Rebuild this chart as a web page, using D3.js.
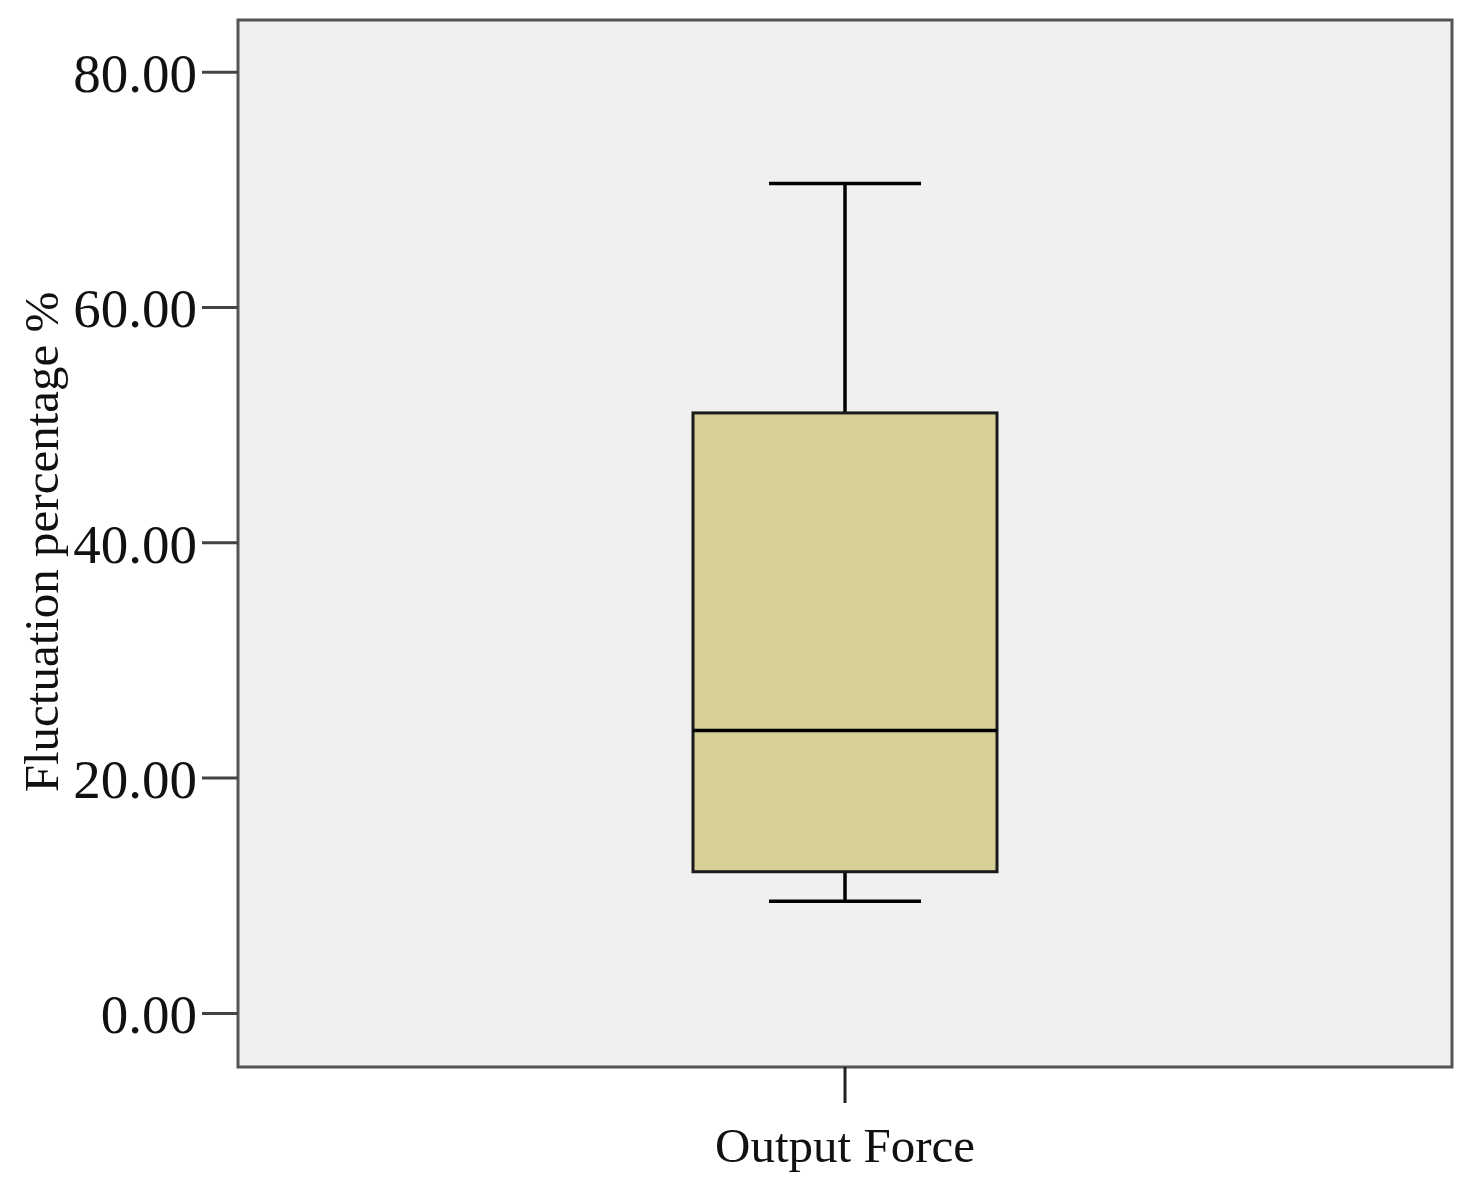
<!DOCTYPE html>
<html>
<head>
<meta charset="utf-8">
<script src="https://cdn.jsdelivr.net/npm/d3@7"></script>
<style>
  body { margin: 0; background: #fff; }
  text { font-family: "Liberation Serif", "Times New Roman", serif; fill: #111; }
</style>
</head>
<body>
<div id="chart"></div>
<script>
// box plot summary
var categories = ["Output Force"];
var whiskerLow = [9.5];
var q1 = [12.0];
var median = [24.0];
var q3 = [51.0];
var whiskerHigh = [70.5];
var yTicks = [0, 20, 40, 60, 80];
var yDomain = [-4.6, 84.4];

var svg = d3.select("#chart").append("svg")
    .attr("width", 1470)
    .attr("height", 1194);

var margin = {top: 20, right: 18, bottom: 127, left: 238};
var width = 1470 - margin.left - margin.right;
var height = 1194 - margin.top - margin.bottom;

var g = svg.append("g")
    .attr("transform", "translate(" + margin.left + "," + margin.top + ")");

var x = d3.scaleBand().domain(categories).range([0, width]).padding(0);
var y = d3.scaleLinear().domain(yDomain).range([height, 0]);

// plot background
g.append("rect")
    .attr("width", width)
    .attr("height", height)
    .attr("fill", "#f0f0f0");

var boxW = 304, capW = 152;
var lineW = 3.5;

var data = categories.map(function(c, i) {
  return {cat: c, lo: whiskerLow[i], q1: q1[i], med: median[i], q3: q3[i], hi: whiskerHigh[i]};
});

var box = g.selectAll(".box").data(data).enter().append("g")
    .attr("class", "box")
    .attr("transform", function(d) { return "translate(" + (x(d.cat) + x.bandwidth() / 2) + ",0)"; });

// whisker stems
box.append("line")
    .attr("x1", 0).attr("x2", 0)
    .attr("y1", function(d) { return y(d.hi); })
    .attr("y2", function(d) { return y(d.q3); })
    .attr("stroke", "#000").attr("stroke-width", lineW);
box.append("line")
    .attr("x1", 0).attr("x2", 0)
    .attr("y1", function(d) { return y(d.q1); })
    .attr("y2", function(d) { return y(d.lo); })
    .attr("stroke", "#000").attr("stroke-width", lineW);

// caps
box.append("line")
    .attr("x1", -capW / 2).attr("x2", capW / 2)
    .attr("y1", function(d) { return y(d.hi); })
    .attr("y2", function(d) { return y(d.hi); })
    .attr("stroke", "#000").attr("stroke-width", lineW);
box.append("line")
    .attr("x1", -capW / 2).attr("x2", capW / 2)
    .attr("y1", function(d) { return y(d.lo); })
    .attr("y2", function(d) { return y(d.lo); })
    .attr("stroke", "#000").attr("stroke-width", lineW);

// box
box.append("rect")
    .attr("x", -boxW / 2)
    .attr("width", boxW)
    .attr("y", function(d) { return y(d.q3); })
    .attr("height", function(d) { return y(d.q1) - y(d.q3); })
    .attr("fill", "#d6d098")
    .attr("stroke", "#1a1a1a")
    .attr("stroke-width", 3);

// median
box.append("line")
    .attr("x1", -boxW / 2).attr("x2", boxW / 2)
    .attr("y1", function(d) { return y(d.med); })
    .attr("y2", function(d) { return y(d.med); })
    .attr("stroke", "#000").attr("stroke-width", lineW);

// frame
g.append("rect")
    .attr("width", width)
    .attr("height", height)
    .attr("fill", "none")
    .attr("stroke", "#555")
    .attr("stroke-width", 3);

// y axis
var yAxis = g.append("g")
    .call(d3.axisLeft(y).tickValues(yTicks).tickSize(36).tickPadding(5)
      .tickFormat(d3.format(".2f")));
yAxis.select(".domain").remove();
yAxis.selectAll(".tick line").attr("stroke", "#444").attr("stroke-width", 3);
yAxis.selectAll(".tick text")
    .style("font-family", "'Liberation Serif', 'Times New Roman', serif")
    .style("font-size", "55px")
    .attr("fill", "#111")
    .attr("dy", "0.36em");

// x axis
var xAxis = g.append("g")
    .attr("transform", "translate(0," + height + ")")
    .call(d3.axisBottom(x).tickSize(36).tickPadding(24));
xAxis.select(".domain").remove();
xAxis.selectAll(".tick line").attr("stroke", "#222").attr("stroke-width", 3);
xAxis.selectAll(".tick text")
    .style("font-family", "'Liberation Serif', 'Times New Roman', serif")
    .style("font-size", "49px")
    .attr("fill", "#111");

// y label
svg.append("text")
    .attr("text-anchor", "middle")
    .attr("transform", "translate(58," + 542 + ")rotate(-90)")
    .style("font-size", "49px")
    .text("Fluctuation percentage %");
</script>
</body>
</html>
